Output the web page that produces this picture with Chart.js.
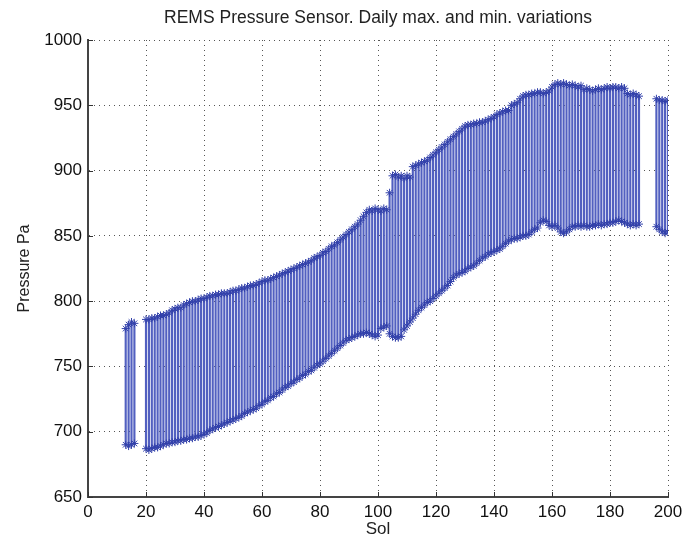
<!DOCTYPE html>
<html lang="en">
  <head>
    <meta charset="UTF-8" />
    <title>REMS Pressure Sensor</title>
    <style>
      body {
        margin: 0;
        padding: 0;
        background: #fff;
      }
      #chart {
        display: block;
      }
    </style>
  </head>
  <body>
    <canvas id="chart" width="691" height="542"></canvas>
    <script src="https://cdn.jsdelivr.net/npm/chart.js"></script>
    <script>
      // Sol numbers that have a reading
      const sols = [
        13, 14, 15, 16,
        20, 21, 22, 23, 24, 25, 26, 27, 28, 29, 30, 31, 32, 33, 34, 35, 36, 37, 38, 39,
        40, 41, 42, 43, 44, 45, 46, 47, 48, 49, 50, 51, 52, 53, 54, 55, 56, 57, 58, 59,
        60, 61, 62, 63, 64, 65, 66, 67, 68, 69, 70, 71, 72, 73, 74, 75, 76, 77, 78, 79,
        80, 81, 82, 83, 84, 85, 86, 87, 88, 89, 90, 91, 92, 93, 94, 95, 96, 97, 98, 99,
        100, 101, 102, 103, 104, 105, 106, 107, 108, 109, 110, 111, 112, 113, 114, 115, 116, 117, 118, 119,
        120, 121, 122, 123, 124, 125, 126, 127, 128, 129, 130, 131, 132, 133, 134, 135, 136, 137, 138, 139,
        140, 141, 142, 143, 144, 145, 146, 147, 148, 149, 150, 151, 152, 153, 154, 155, 156, 157, 158, 159,
        160, 161, 162, 163, 164, 165, 166, 167, 168, 169, 170, 171, 172, 173, 174, 175, 176, 177, 178, 179,
        180, 181, 182, 183, 184, 185, 186, 187, 188, 189, 190,
        196, 197, 198, 199, 200
      ];

      // daily maximum pressure (Pa)
      const maxPa = [
        779, 782, 784, 783,
        786, 786, 787, 787, 788, 789, 789, 790, 791, 793, 794, 795, 795, 797, 798, 799, 800, 800, 801, 802,
        802, 803, 804, 804, 805, 805, 806, 806, 806, 807, 808, 808, 809, 810, 810, 811, 812, 812, 813, 814,
        815, 816, 816, 817, 818, 819, 820, 821, 822, 823, 824, 825, 826, 827, 828, 829, 830, 831, 833, 834,
        835, 837, 838, 840, 842, 843, 845, 847, 849, 851, 853, 855, 857, 859, 862, 865, 868, 870, 869, 871,
        870, 869, 871, 870, 883, 896, 897, 895, 896, 894, 896, 895, 903, 904, 905, 906, 907, 908, 910, 912,
        914, 916, 918, 920, 922, 924, 926, 928, 930, 932, 934, 935, 935, 936, 936, 937, 937, 938, 939, 940,
        941, 943, 944, 945, 946, 946, 950, 951, 952, 955, 957, 958, 958, 959, 959, 960, 960, 959, 960, 961,
        964, 966, 967, 966, 967, 966, 965, 966, 965, 964, 965, 962, 963, 962, 961, 962, 963, 962, 963, 964,
        963, 964, 964, 963, 964, 963, 959, 958, 959, 958, 957,
        955, 954, 954, 953, 954
      ];

      // daily minimum pressure (Pa)
      const minPa = [
        690, 689, 690, 691,
        687, 686, 687, 688, 688, 689, 690, 691, 691, 692, 692, 693, 693, 694, 694, 695, 695, 696, 696, 697,
        698, 699, 701, 702, 703, 704, 705, 706, 707, 708, 709, 710, 711, 712, 714, 715, 716, 717, 718, 720,
        721, 723, 724, 726, 727, 729, 730, 732, 734, 735, 737, 738, 740, 741, 743, 744, 746, 747, 749, 751,
        752, 754, 756, 758, 760, 762, 764, 766, 768, 770, 771, 772, 773, 774, 775, 775, 776, 775, 774, 773,
        774, 779, 780, 781, 775, 773, 772, 772, 773, 778, 781, 784, 787, 790, 793, 795, 797, 799, 800, 802,
        804, 806, 808, 810, 812, 815, 818, 820, 821, 822, 823, 825, 826, 827, 829, 831, 833, 834, 836, 837,
        838, 839, 840, 842, 844, 846, 847, 848, 848, 849, 850, 850, 851, 853, 855, 856, 860, 862, 861, 858,
        857, 858, 856, 853, 852, 853, 855, 857, 857, 858, 857, 858, 857, 857, 858, 858, 859, 858, 859, 859,
        860, 860, 861, 862, 861, 860, 859, 858, 859, 858, 859,
        857, 855, 853, 852, 853
      ];

      const xTicks = [0, 20, 40, 60, 80, 100, 120, 140, 160, 180, 200];
      const yTicks = [650, 700, 750, 800, 850, 900, 950, 1000];

      const lineBlue = "#5260c0";
      const markBlue = "#3240aa";
      const fontFamily = "'Liberation Sans', Arial, sans-serif";

      const ranges = sols.map((s, i) => ({ x: s, y: [minPa[i], maxPa[i]] }));
      const maxPts = sols.map((s, i) => ({ x: s, y: maxPa[i] }));
      const minPts = sols.map((s, i) => ({ x: s, y: minPa[i] }));

      // small inward tick marks like the original plot
      const innerTicks = {
        id: "innerTicks",
        afterDatasetsDraw(chart) {
          const { ctx, chartArea, scales } = chart;
          ctx.save();
          ctx.strokeStyle = "#333";
          ctx.lineWidth = 1;
          ctx.beginPath();
          xTicks.forEach((v) => {
            const px = Math.round(scales.x.getPixelForValue(v)) + 0.5;
            ctx.moveTo(px, chartArea.bottom);
            ctx.lineTo(px, chartArea.bottom - 5);
          });
          yTicks.forEach((v) => {
            const py = Math.round(scales.y.getPixelForValue(v)) + 0.5;
            ctx.moveTo(chartArea.left, py);
            ctx.lineTo(chartArea.left + 5, py);
          });
          ctx.stroke();
          ctx.restore();
        },
      };

      new Chart(document.getElementById("chart"), {
        type: "bar",
        data: {
          datasets: [
            {
              type: "line",
              data: maxPts,
              showLine: false,
              pointStyle: "star",
              pointRadius: 4,
              pointBorderWidth: 1,
              borderColor: markBlue,
              backgroundColor: markBlue,
            },
            {
              type: "line",
              data: minPts,
              showLine: false,
              pointStyle: "star",
              pointRadius: 4,
              pointBorderWidth: 1,
              borderColor: markBlue,
              backgroundColor: markBlue,
            },
            {
              data: ranges,
              backgroundColor: lineBlue,
              barThickness: 1.5,
              borderWidth: 0,
            },
          ],
        },
        options: {
          responsive: false,
          animation: false,
          layout: { padding: { left: 0, right: 23, top: 0, bottom: 0 } },
          plugins: {
            legend: { display: false },
            tooltip: { enabled: false },
            title: {
              display: true,
              fullSize: false,
              text: "REMS Pressure Sensor. Daily max. and min. variations",
              color: "#222",
              font: { family: fontFamily, size: 17.5, weight: "normal" },
              padding: { top: 8, bottom: 11 },
            },
          },
          scales: {
            x: {
              type: "linear",
              min: 0,
              max: 200,
              offset: false,
              afterBuildTicks: (scale) => {
                scale.ticks = xTicks.map((v) => ({ value: v }));
              },
              afterFit: (scale) => {
                scale.height = 45;
              },
              grid: {
                offset: false,
                color: "#555",
                lineWidth: 1,
                drawTicks: false,
              },
              border: { display: true, color: "#444", width: 2, dash: [1, 4] },
              ticks: {
                color: "#111",
                padding: 5,
                maxRotation: 0,
                font: { family: fontFamily, size: 17 },
                callback: (v) => String(v),
              },
              title: {
                display: true,
                text: "Sol",
                color: "#222",
                font: { family: fontFamily, size: 17 },
                padding: { top: 0, bottom: 2 },
              },
            },
            y: {
              min: 650,
              max: 1000,
              afterBuildTicks: (scale) => {
                scale.ticks = yTicks.map((v) => ({ value: v }));
              },
              afterFit: (scale) => {
                scale.width = 88;
              },
              grid: {
                color: "#555",
                lineWidth: 1,
                drawTicks: false,
              },
              border: { display: true, color: "#444", width: 2, dash: [1, 4] },
              ticks: {
                color: "#111",
                padding: 6,
                font: { family: fontFamily, size: 17 },
                callback: (v) => String(v),
              },
              title: {
                display: true,
                text: "Pressure Pa",
                color: "#222",
                font: { family: fontFamily, size: 16 },
                padding: { top: 15, bottom: 0 },
              },
            },
          },
        },
        plugins: [innerTicks],
      });
    </script>
  </body>
</html>
